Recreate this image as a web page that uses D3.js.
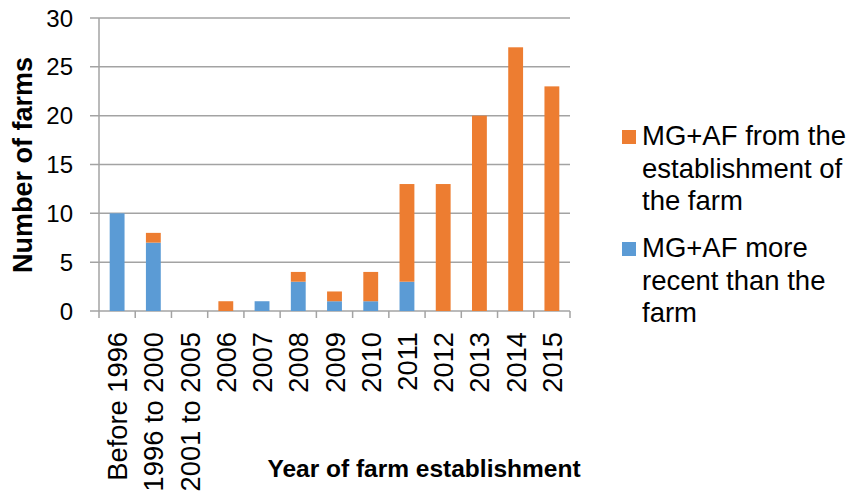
<!DOCTYPE html>
<html><head><meta charset="utf-8">
<script src="https://cdn.jsdelivr.net/npm/d3@7"></script>
<style>body{margin:0;background:#fff}svg{display:block;font-family:Arial,"Liberation Sans",sans-serif}</style>
</head><body>
<script>
const categories = ["Before 1996","1996 to 2000","2001 to 2005","2006","2007","2008","2009","2010","2011","2012","2013","2014","2015"];
const recentValues = [10,7,0,0,1,3,1,1,3,0,0,0,0];      // MG+AF more recent than the farm
const fromEstValues = [0,1,0,1,0,1,1,3,10,13,20,27,23];  // MG+AF from the establishment of the farm
const yTicks = [0,5,10,15,20,25,30];
const seriesNames = ["MG+AF from the establishment of the farm","MG+AF more recent than the farm"];
const legendLines = [["MG+AF from the","establishment of","the farm"],["MG+AF more","recent than the","farm"]];

const W=849,H=495;
const svg=d3.select("body").append("svg").attr("width",W).attr("height",H);
const x=d3.scaleBand().domain(categories).range([99,570]).padding(0);
const y=d3.scaleLinear().domain([0,30]).range([311,18]);
const grid="#a3a3a3";
const orange="#ED7D31", blue="#5B9BD5";

svg.append("g").selectAll("line").data(yTicks).join("line")
 .attr("x1",90).attr("x2",570).attr("y1",d=>y(d)).attr("y2",d=>y(d))
 .attr("stroke",grid).attr("stroke-width",1.5);
svg.append("line").attr("x1",99).attr("x2",99).attr("y1",y(30)).attr("y2",y(0)).attr("stroke",grid).attr("stroke-width",1.5);
const bounds=categories.map(c=>x(c)).concat([x.range()[1]]);
svg.append("g").selectAll("line").data(bounds).join("line")
 .attr("x1",d=>d).attr("x2",d=>d).attr("y1",y(0)).attr("y2",y(0)+7)
 .attr("stroke",grid).attr("stroke-width",1.5);

const bw=x.step()*0.41;
const data=categories.map((c,i)=>({c,r:recentValues[i],e:fromEstValues[i]}));
const g=svg.append("g");
g.selectAll("rect.r").data(data.filter(d=>d.r>0)).join("rect").attr("class","r")
 .attr("x",d=>x(d.c)+(x.step()-bw)/2).attr("width",bw)
 .attr("y",d=>y(d.r)).attr("height",d=>y(0)-y(d.r)).attr("fill",blue);
g.selectAll("rect.e").data(data.filter(d=>d.e>0)).join("rect").attr("class","e")
 .attr("x",d=>x(d.c)+(x.step()-bw)/2).attr("width",bw)
 .attr("y",d=>y(d.r+d.e)).attr("height",d=>y(d.r)-y(d.r+d.e)).attr("fill",orange);

svg.append("g").selectAll("text").data(yTicks).join("text")
 .attr("x",73).attr("y",d=>y(d)+8.5).attr("text-anchor","end")
 .attr("font-size",24).attr("fill","#000").text(d=>d);

svg.append("g").selectAll("text").data(categories).join("text")
 .attr("transform",d=>`translate(${x(d)+x.step()/2+10},332) rotate(-90)`)
 .attr("text-anchor","end").attr("font-size",27.3).attr("fill","#000").text(d=>d);

svg.append("text").attr("transform","translate(32,165) rotate(-90)").attr("text-anchor","middle")
 .attr("font-size",27).attr("font-weight","bold").text("Number of farms");
svg.append("text").attr("x",424).attr("y",477).attr("text-anchor","middle")
 .attr("font-size",24.5).attr("font-weight","bold").text("Year of farm establishment");

const lg=svg.append("g");
const legColors=[orange,blue];
const legTop=[145,257];
legendLines.forEach((lines,i)=>{
  lg.append("rect").attr("x",622).attr("y",legTop[i]-15).attr("width",14).attr("height",14).attr("fill",legColors[i]);
  lines.forEach((t,j)=>{
    lg.append("text").attr("x",642).attr("y",legTop[i]+j*32.5).attr("font-size",27.5).attr("fill","#000").text(t);
  });
});
</script>
</body></html>
